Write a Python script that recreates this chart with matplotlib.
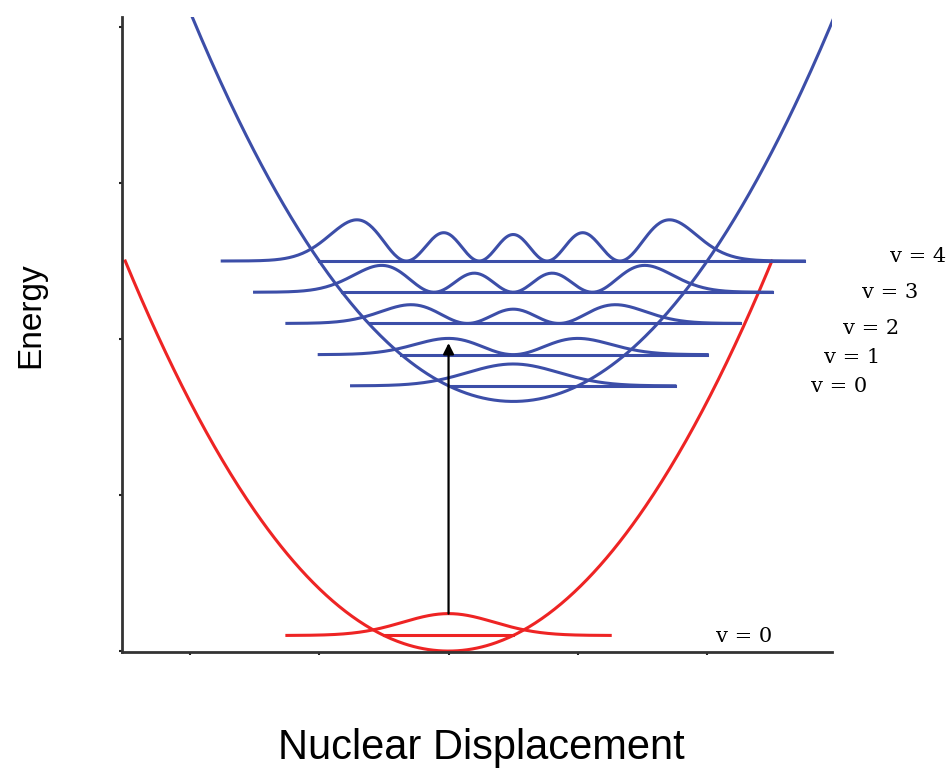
import numpy as np
import matplotlib
matplotlib.use('Agg')
import matplotlib.pyplot as plt
from numpy.polynomial.hermite import hermval

# potential wells: V = 0.5*k*(x - x0)^2 + e0
ground_x0, ground_e0 = 0.0, 0.0
excited_x0, excited_e0 = 1.0, 8.0
ground_range = (-5.0, 5.0)
excited_range = (-5.0, 6.5)

# vibrational levels of the excited state
excited_v = [0, 1, 2, 3, 4]
excited_peak = [0.70, 0.52, 0.60, 0.86, 1.32]   # height of |psi|^2 on each level
excited_span = [2.5, 3.0, 3.5, 4.0, 4.5]        # half width of each drawn level

# ground state level
ground_v = 0
ground_peak = 0.70
ground_span = 2.5

blue = '#3c4ea8'
red = '#ee2424'


def density(n, xi):
    c = np.zeros(n + 1)
    c[n] = 1
    d = hermval(xi, c) ** 2 * np.exp(-xi ** 2)
    return d / d.max()


fig = plt.figure(figsize=(9.51, 7.70), dpi=100)
ax = fig.add_axes([122 / 951, (770 - 652) / 770, (832 - 122) / 951, (652 - 17) / 770])

# potential curves
x = np.linspace(*ground_range, 400)
ax.plot(x, ground_e0 + 0.5 * (x - ground_x0) ** 2, color=red, lw=2.2)
x = np.linspace(*excited_range, 400)
ax.plot(x, excited_e0 + 0.5 * (x - excited_x0) ** 2, color=blue, lw=2.2)

# excited state levels and probability densities
for n, peak, span in zip(excited_v, excited_peak, excited_span):
    e = excited_e0 + n + 0.5
    xt = np.sqrt(2 * n + 1)
    ax.plot([excited_x0 - xt, excited_x0 + span], [e, e], color=blue, lw=2.2)
    xi = np.linspace(-span, span, 400)
    ax.plot(excited_x0 + xi, e + peak * density(n, xi), color=blue, lw=2.2)

# ground state level
e = ground_e0 + ground_v + 0.5
xt = np.sqrt(2 * ground_v + 1)
ax.plot([ground_x0 - xt, ground_x0 + xt], [e, e], color=red, lw=2.2)
xi = np.linspace(-ground_span, ground_span, 400)
ax.plot(ground_x0 + xi, e + ground_peak * density(ground_v, xi), color=red, lw=2.2)

# vertical excitation
ax.annotate('', xy=(0, 9.87), xytext=(0, e + ground_peak),
            arrowprops=dict(arrowstyle='-|>', color='black', lw=1.6,
                            mutation_scale=16, shrinkA=0, shrinkB=0))

# level labels
label_pos = [(5.61, 8.49), (5.81, 9.42), (6.10, 10.35), (6.39, 11.50), (6.83, 12.63)]
for n, (lx, ly) in zip(excited_v, label_pos):
    ax.text(lx, ly, 'v = %d' % n, family='DejaVu Serif', fontsize=15,
            va='center', ha='left', clip_on=False)
ax.text(4.14, 0.48, 'v = %d' % ground_v, family='DejaVu Serif', fontsize=15,
        va='center', ha='left', clip_on=False)

ax.set_xlim(-5.05, 5.93)
ax.set_ylim(-0.03, 20.32)
ax.set_xticks([-4, -2, 0, 2, 4])
ax.set_yticks([0, 5, 10, 15, 20])
ax.tick_params(direction='out', length=2.5, width=1.5, color='#222222',
               labelbottom=False, labelleft=False)
for side in ['top', 'right']:
    ax.spines[side].set_visible(False)
for side in ['left', 'bottom']:
    ax.spines[side].set_linewidth(2.0)
    ax.spines[side].set_color('#333333')

fig.text(31 / 951, 1 - 315 / 770, 'Energy', family='Liberation Sans', fontsize=24,
         rotation=90, ha='center', va='center')
fig.text(481 / 951, 1 - 748 / 770, 'Nuclear Displacement', family='Liberation Sans',
         fontsize=30, ha='center', va='center')

fig.savefig('out.png', dpi=100)
